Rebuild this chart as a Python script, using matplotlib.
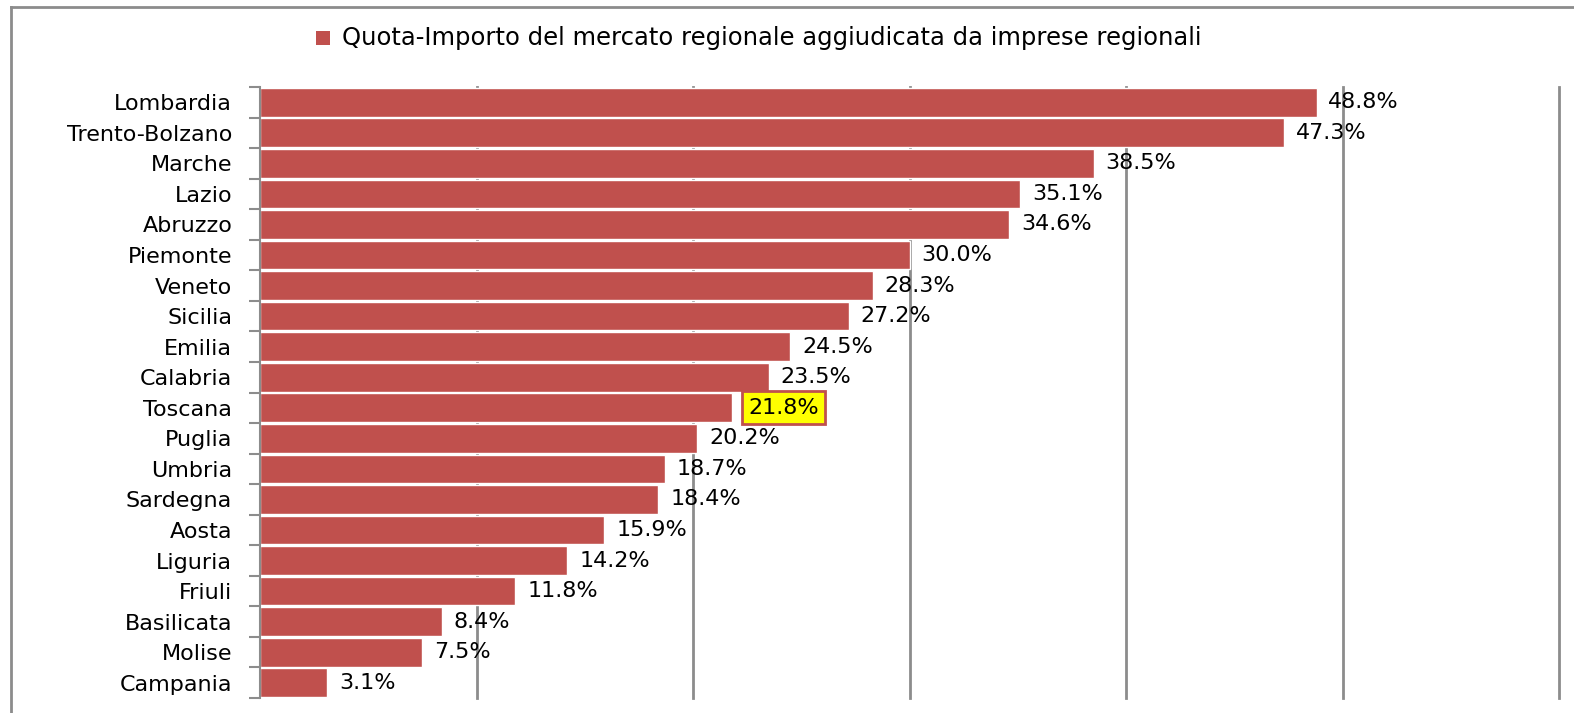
import matplotlib
matplotlib.use("Agg")
from matplotlib import pyplot as plt
from matplotlib.lines import Line2D
from matplotlib.patches import Rectangle
import numpy as np

REGIONS = [
    "Lombardia", "Trento-Bolzano", "Marche", "Lazio", "Abruzzo", "Piemonte",
    "Veneto", "Sicilia", "Emilia", "Calabria", "Toscana", "Puglia", "Umbria",
    "Sardegna", "Aosta", "Liguria", "Friuli", "Basilicata", "Molise", "Campania",
]
SHARES = [
    48.8, 47.3, 38.5, 35.1, 34.6, 30.0, 28.3, 27.2, 24.5, 23.5,
    21.8, 20.2, 18.7, 18.4, 15.9, 14.2, 11.8, 8.4, 7.5, 3.1,
]
HIGHLIGHT = "Toscana"
LEGEND_LABEL = "Quota-Importo del mercato regionale aggiudicata da imprese regionali"

BAR_COLOR = "#C0504D"
GRID_COLOR = "#8C8C8C"

W, H = 1574, 713
fig = plt.figure(figsize=(W / 100, H / 100), dpi=100)
ax = fig.add_axes([260 / W, 1 - 698 / H, (1559 - 260) / W, (698 - 87) / H])

y = np.arange(len(REGIONS))
ax.barh(y, SHARES, height=0.94, color=BAR_COLOR, edgecolor="white", linewidth=1, zorder=2)

for yi, name, val in zip(y, REGIONS, SHARES):
    txt = f"{val:.1f}%"
    if name == HIGHLIGHT:
        ax.text(val + 0.75, yi, txt, va="center", ha="left", fontsize=16, zorder=4,
                bbox=dict(boxstyle="square,pad=0.3", facecolor="#FFFF00", edgecolor=BAR_COLOR, linewidth=2))
    else:
        ax.text(val + 0.55, yi, txt, va="center", ha="left", fontsize=16, zorder=4)

ax.set_xlim(0, 60)
ax.set_ylim(len(REGIONS) - 0.5, -0.5)
ax.set_xticks(np.arange(10, 61, 10))
ax.xaxis.grid(True, color=GRID_COLOR, linewidth=2, zorder=0)
for gl in ax.get_xgridlines():
    gl.set_clip_on(False)
ax.set_axisbelow(True)
ax.tick_params(axis="x", length=0, labelbottom=False)

# ticks at category boundaries, labels at centers
ax.set_yticks(np.arange(-0.5, len(REGIONS), 1))
ax.set_yticklabels([])
ax.set_yticks(y, minor=True)
ax.set_yticklabels(REGIONS, minor=True, fontsize=16)
ax.tick_params(axis="y", which="major", length=8, width=1.5, color=GRID_COLOR)
ax.tick_params(axis="y", which="minor", length=0, pad=20)

for s in ("top", "right", "bottom"):
    ax.spines[s].set_visible(False)
ax.spines["left"].set_color(GRID_COLOR)
ax.spines["left"].set_linewidth(1.5)

# legend at the top
fig.add_artist(Rectangle((316 / W, 1 - 45 / H), 14 / W, 14 / H, transform=fig.transFigure,
                         facecolor=BAR_COLOR, edgecolor="none"))
fig.text(342 / W, 1 - 38 / H, LEGEND_LABEL, fontsize=17.5, va="center", ha="left")

# outer chart frame (only top and left edges visible)
fig.add_artist(Line2D([11 / W, 11 / W], [0, 1 - 7 / H], transform=fig.transFigure, color="#8C8C8C", linewidth=2))
fig.add_artist(Line2D([11 / W, 1], [1 - 7 / H, 1 - 7 / H], transform=fig.transFigure, color="#8C8C8C", linewidth=2))

fig.savefig("out.png", dpi=100)
